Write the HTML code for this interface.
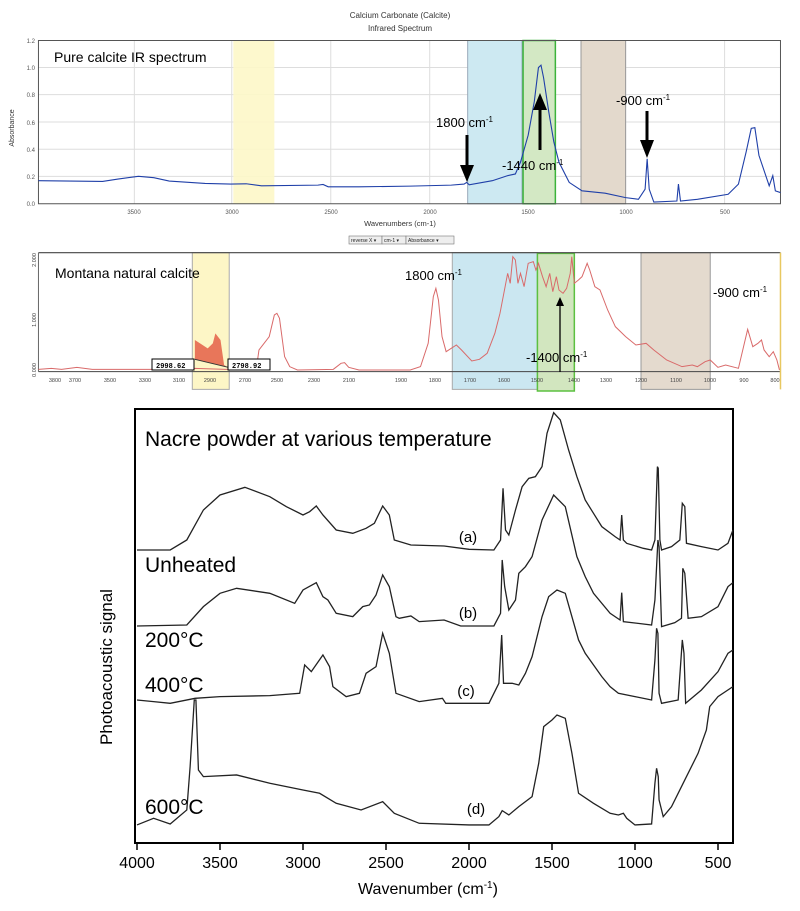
<!DOCTYPE html>
<html><head><meta charset="utf-8"><style>
html,body{margin:0;padding:0;background:#fff;}
svg{display:block;font-family:"Liberation Sans",Arial,sans-serif;}
.ns{vector-effect:non-scaling-stroke;}
</style></head><body>
<svg width="800" height="911" viewBox="0 0 800 911" xmlns="http://www.w3.org/2000/svg">
<!-- ================= TOP PANEL ================= -->
<text x="400" y="18" font-size="8" text-anchor="middle" fill="#333">Calcium Carbonate (Calcite)</text>
<text x="400" y="31" font-size="8" text-anchor="middle" fill="#333">Infrared Spectrum</text>
<g transform="scale(0.5128,0.3378)">
  <!-- gridlines -->
  <g stroke="#ddd" stroke-width="1" class="ns">
    <line class="ns" x1="75" y1="200" x2="1522" y2="200"/><line class="ns" x1="75" y1="280" x2="1522" y2="280"/>
    <line class="ns" x1="75" y1="361" x2="1522" y2="361"/><line class="ns" x1="75" y1="442" x2="1522" y2="442"/>
    <line class="ns" x1="75" y1="522" x2="1522" y2="522"/>
    <line class="ns" x1="262" y1="120" x2="262" y2="603"/><line class="ns" x1="452" y1="120" x2="452" y2="603"/>
    <line class="ns" x1="645" y1="120" x2="645" y2="603"/><line class="ns" x1="838" y1="120" x2="838" y2="603"/>
    <line class="ns" x1="1030" y1="120" x2="1030" y2="603"/><line class="ns" x1="1220" y1="120" x2="1220" y2="603"/>
    <line class="ns" x1="1413" y1="120" x2="1413" y2="603"/>
  </g>
  <rect x="455" y="120" width="80" height="483" fill="#fdf7c8" opacity="0.9"/>
  <rect x="912" y="120" width="106" height="483" fill="#cde9f2" stroke="#9ab" class="ns" stroke-width="1"/>
  <rect x="1020" y="120" width="63" height="483" fill="#d3e8c4" stroke="#3bb33b" class="ns" stroke-width="1.5"/>
  <rect x="1133" y="120" width="87" height="483" fill="#e3d9cc" stroke="#999" class="ns" stroke-width="1"/>
  <rect x="75" y="120" width="1447" height="483" fill="none" stroke="#555" class="ns" stroke-width="1"/>
  <polyline class="ns" fill="none" stroke="#1f3fa8" stroke-width="1.1" points="75,535 200,537 230,530 270,522 300,526 330,536 400,543 450,545 480,544 510,550 620,548 630,546 640,553 700,553 800,551 880,548 905,545 910,540 915,547 960,535 990,520 1005,515 1015,480 1030,400 1042,300 1050,200 1055,193 1060,230 1070,330 1080,420 1090,480 1110,540 1135,565 1180,572 1220,585 1245,590 1258,560 1262,470 1266,560 1275,598 1320,595 1323,545 1327,595 1360,590 1420,575 1440,545 1455,450 1465,380 1472,378 1480,460 1500,550 1507,520 1512,565 1522,570"/>
</g>
<g font-size="6" fill="#555" text-anchor="end">
  <text x="35" y="43">1.2</text><text x="35" y="70">1.0</text><text x="35" y="97">0.8</text>
  <text x="35" y="125">0.6</text><text x="35" y="152">0.4</text><text x="35" y="179">0.2</text><text x="35" y="206">0.0</text>
</g>
<g font-size="6" fill="#555" text-anchor="middle">
  <text x="134" y="214">3500</text><text x="232" y="214">3000</text><text x="331" y="214">2500</text>
  <text x="430" y="214">2000</text><text x="528" y="214">1500</text><text x="626" y="214">1000</text><text x="725" y="214">500</text>
</g>
<text transform="translate(14,128) rotate(-90)" font-size="7" text-anchor="middle" fill="#333">Absorbance</text>
<text x="400" y="226" font-size="7.5" text-anchor="middle" fill="#333">Wavenumbers (cm-1)</text>
<g font-size="5" fill="#222">
  <rect x="349" y="236" width="33" height="8" fill="#eee" stroke="#777" stroke-width="0.6"/><text x="351" y="242">reverse X ▾</text>
  <rect x="382" y="236" width="24" height="8" fill="#eee" stroke="#777" stroke-width="0.6"/><text x="384" y="242">cm-1 ▾</text>
  <rect x="406" y="236" width="48" height="8" fill="#eee" stroke="#777" stroke-width="0.6"/><text x="408" y="242">Absorbance    ▾</text>
</g>
<text x="54" y="62" font-size="14" fill="#000">Pure calcite IR spectrum</text>
<text x="436" y="127" font-size="13" fill="#000">1800 cm<tspan font-size="8" dy="-5">-1</tspan></text>
<text x="502" y="170" font-size="13" fill="#000">-1440 cm<tspan font-size="8" dy="-5">-1</tspan></text>
<text x="616" y="105" font-size="13" fill="#000">-900 cm<tspan font-size="8" dy="-5">-1</tspan></text>
<g fill="#000" stroke="#000">
  <line x1="467" y1="135" x2="467" y2="168" stroke-width="3"/><polygon points="460,165 474,165 467,182" stroke="none"/>
  <line x1="540" y1="150" x2="540" y2="108" stroke-width="3"/><polygon points="533,110 547,110 540,93" stroke="none"/>
  <line x1="647" y1="111" x2="647" y2="143" stroke-width="3"/><polygon points="640,140 654,140 647,158" stroke="none"/>
</g>

<!-- ================= MIDDLE PANEL ================= -->
<g transform="translate(0,230) scale(0.5128,0.3333)">
  <rect x="375" y="68" width="72" height="410" fill="#fdf6c6" stroke="#aaa" class="ns" stroke-width="1"/>
  <rect x="882" y="68" width="166" height="410" fill="#cbe7f1" stroke="#aaa" class="ns" stroke-width="1"/>
  <rect x="1048" y="70" width="72" height="413" fill="#d2e6bf" stroke="#5cc040" class="ns" stroke-width="1.5"/>
  <rect x="1250" y="68" width="135" height="410" fill="#e4dace" stroke="#999" class="ns" stroke-width="1"/>
  <line class="ns" x1="75" y1="68" x2="1522" y2="68" stroke="#444" stroke-width="1.2"/>
  <line class="ns" x1="75" y1="425" x2="1522" y2="425" stroke="#444" stroke-width="1"/>
  <line class="ns" x1="75" y1="68" x2="75" y2="425" stroke="#666" stroke-width="1"/>
  <line class="ns" x1="1522" y1="68" x2="1522" y2="478" stroke="#e8c860" stroke-width="1.5"/>
  <polygon fill="#e8765a" points="380,330 395,345 405,355 415,340 420,310 430,330 437,405 442,410 380,388"/>
  <line class="ns" x1="380" y1="388" x2="445" y2="412" stroke="#333" stroke-width="1"/>
  <polyline class="ns" fill="none" stroke="#d96a6a" stroke-width="1" points="75,418 100,415 120,418 150,412 180,418 300,418 380,415 440,418 500,415 505,360 515,340 525,320 535,255 540,250 545,265 555,380 565,410 580,420 650,418 665,400 672,398 680,412 700,420 800,420 820,410 835,340 845,200 850,175 855,210 862,320 870,365 880,355 890,345 900,360 920,393 935,388 950,370 965,310 975,250 985,170 990,130 995,160 1000,80 1005,90 1010,160 1015,130 1022,170 1030,100 1040,95 1045,120 1050,100 1058,140 1065,170 1072,130 1078,185 1085,140 1090,180 1098,190 1105,175 1112,130 1115,80 1120,160 1128,150 1135,140 1145,100 1150,120 1160,170 1170,180 1185,240 1200,290 1220,320 1240,345 1260,340 1275,360 1300,390 1330,410 1350,405 1360,410 1375,395 1385,390 1400,412 1415,405 1440,415 1450,350 1458,298 1468,350 1478,340 1485,330 1490,360 1500,380 1508,365 1515,390 1520,420"/>
</g>
<g font-size="5.5" fill="#444">
  <text transform="translate(36,370) rotate(-90)" text-anchor="middle">0.000</text>
  <text transform="translate(36,320) rotate(-90)" text-anchor="middle">1.000</text>
  <text transform="translate(36,260) rotate(-90)" text-anchor="middle">2.000</text>
</g>
<g font-size="5.5" fill="#444" text-anchor="middle">
  <text x="55" y="382">3800</text><text x="75" y="382">3700</text><text x="110" y="382">3500</text>
  <text x="145" y="382">3300</text><text x="179" y="382">3100</text><text x="210" y="382">2900</text>
  <text x="245" y="382">2700</text><text x="277" y="382">2500</text><text x="314" y="382">2300</text>
  <text x="349" y="382">2100</text><text x="401" y="382">1900</text><text x="435" y="382">1800</text>
  <text x="470" y="382">1700</text><text x="504" y="382">1600</text><text x="537" y="382">1500</text>
  <text x="574" y="382">1400</text><text x="606" y="382">1300</text><text x="641" y="382">1200</text>
  <text x="676" y="382">1100</text><text x="710" y="382">1000</text><text x="744" y="382">900</text><text x="775" y="382">800</text>
</g>
<g font-size="7" font-weight="bold" font-family="Liberation Mono,monospace">
  <rect x="152" y="359" width="42" height="11" fill="#fff" stroke="#000" stroke-width="1"/><text x="156" y="368">2998.62</text>
  <rect x="228" y="359" width="42" height="11" fill="#fff" stroke="#000" stroke-width="1"/><text x="232" y="368">2798.92</text>
</g>
<text x="55" y="278" font-size="14" fill="#000">Montana natural calcite</text>
<text x="405" y="280" font-size="13" fill="#000">1800 cm<tspan font-size="8" dy="-5">-1</tspan></text>
<text x="713" y="297" font-size="13" fill="#000">-900 cm<tspan font-size="8" dy="-5">-1</tspan></text>
<text x="526" y="362" font-size="13" fill="#000">-1400 cm<tspan font-size="8" dy="-5">-1</tspan></text>
<line x1="560" y1="372" x2="560" y2="304" stroke="#000" stroke-width="1.3"/>
<polygon points="556,306 564,306 560,297" fill="#000"/>

<!-- ================= BOTTOM PANEL ================= -->
<rect x="135" y="409" width="598" height="434" fill="none" stroke="#000" stroke-width="2"/>
<g stroke="#000" stroke-width="1.5">
  <line x1="137" y1="843" x2="137" y2="850"/><line x1="220" y1="843" x2="220" y2="850"/>
  <line x1="303" y1="843" x2="303" y2="850"/><line x1="386" y1="843" x2="386" y2="850"/>
  <line x1="469" y1="843" x2="469" y2="850"/><line x1="552" y1="843" x2="552" y2="850"/>
  <line x1="635" y1="843" x2="635" y2="850"/><line x1="718" y1="843" x2="718" y2="850"/>
</g>
<g font-size="16" fill="#000" text-anchor="middle">
  <text x="137" y="868">4000</text><text x="220" y="868">3500</text><text x="303" y="868">3000</text>
  <text x="386" y="868">2500</text><text x="469" y="868">2000</text><text x="552" y="868">1500</text>
  <text x="635" y="868">1000</text><text x="718" y="868">500</text>
</g>
<text x="428" y="894" font-size="16" text-anchor="middle" fill="#000">Wavenumber (cm<tspan font-size="10" dy="-6">-1</tspan><tspan dy="6">)</tspan></text>
<text transform="translate(112,667) rotate(-90)" font-size="17" text-anchor="middle" fill="#000">Photoacoustic signal</text>
<g transform="translate(801,400) scale(-0.166,0.3333)" fill="none" stroke="#222" stroke-width="1.3">
  <polyline class="ns" points="4000,450 3800,450 3700,420 3600,330 3500,285 3350,262 3200,290 3100,320 3000,345 2960,335 2920,318 2880,345 2800,390 2700,400 2620,385 2570,370 2520,318 2480,345 2450,420 2350,435 2150,438 2000,448 1850,450 1810,420 1795,265 1780,390 1760,405 1720,330 1680,260 1640,235 1600,230 1560,200 1530,100 1490,38 1450,60 1400,150 1350,230 1300,300 1250,340 1200,380 1120,410 1090,420 1080,345 1070,420 1050,430 950,445 900,450 880,420 865,200 860,205 850,420 840,450 780,440 730,420 715,310 700,320 690,430 600,440 500,450 440,430 410,390"/>
  <polyline class="ns" points="4000,678 3700,675 3600,620 3500,580 3400,565 3200,580 3050,610 3000,570 2920,548 2880,590 2850,600 2800,640 2700,650 2640,620 2600,615 2560,585 2520,525 2480,560 2440,650 2420,655 2350,648 2300,665 2150,660 2050,678 1850,678 1810,640 1800,480 1785,560 1760,630 1720,600 1700,520 1660,500 1620,470 1560,360 1490,285 1420,320 1350,470 1300,530 1250,580 1150,640 1090,660 1080,578 1070,665 950,672 900,675 880,600 862,420 855,440 840,680 760,668 720,655 712,505 700,520 680,655 600,650 500,620 440,560 410,548"/>
  <polyline class="ns" points="4000,900 3900,905 3800,910 3650,895 3500,890 3200,887 3020,880 2990,795 2950,815 2880,765 2840,800 2820,860 2740,890 2660,880 2620,820 2560,800 2520,700 2480,760 2440,880 2300,905 2160,895 2140,910 1880,910 1820,850 1803,705 1792,850 1740,850 1700,855 1660,820 1620,770 1560,650 1520,590 1470,570 1420,580 1380,650 1340,720 1300,760 1200,830 1150,860 1100,880 1000,890 900,900 880,780 870,685 862,700 855,880 840,910 740,900 715,720 705,760 695,910 600,870 500,815 440,760 410,750"/>
  <polyline class="ns" points="4000,1275 3900,1255 3800,1272 3700,1230 3680,1100 3655,900 3645,900 3630,1110 3600,1130 3400,1125 3200,1150 3000,1170 2900,1180 2800,1210 2650,1230 2520,1205 2450,1240 2300,1270 2000,1275 1880,1275 1820,1250 1800,1232 1760,1245 1700,1220 1620,1190 1580,1090 1550,980 1500,960 1470,945 1420,955 1380,1060 1340,1180 1250,1210 1150,1240 1100,1245 1070,1240 1050,1255 1000,1275 900,1272 880,1150 870,1105 860,1130 855,1200 830,1250 780,1220 700,1140 620,1060 570,990 550,920 500,890 410,860"/>
</g>
<g font-size="21" fill="#000">
  <text x="145" y="446">Nacre powder at various temperature</text>
  <text x="145" y="572">Unheated</text>
  <text x="145" y="647">200°C</text>
  <text x="145" y="692">400°C</text>
  <text x="145" y="814">600°C</text>
</g>
<g font-size="15" fill="#000" text-anchor="middle">
  <text x="468" y="542">(a)</text><text x="468" y="618">(b)</text>
  <text x="466" y="696">(c)</text><text x="476" y="814">(d)</text>
</g>
</svg>
</body></html>
